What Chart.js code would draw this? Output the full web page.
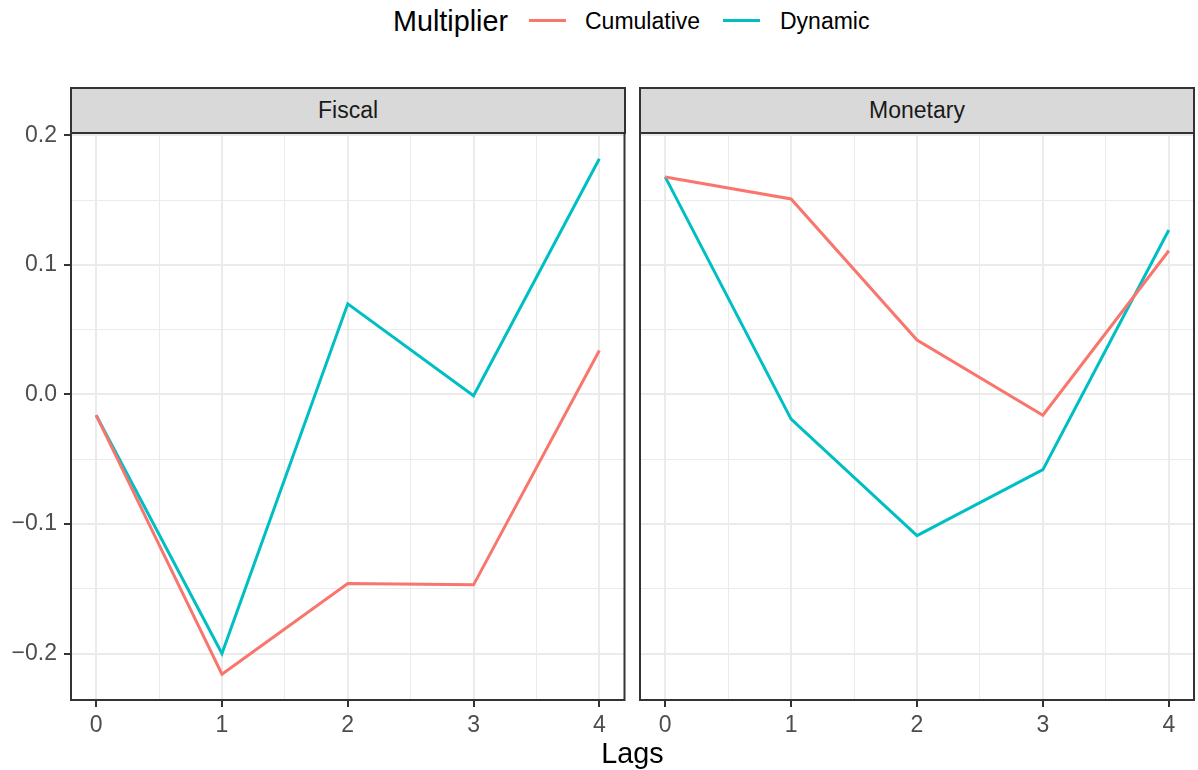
<!DOCTYPE html>
<html>
<head>
<meta charset="utf-8">
<script src="https://cdn.jsdelivr.net/npm/chart.js@4"></script>
<style>
  body { margin:0; width:1198px; height:770px; background:#fff; position:relative; overflow:hidden;
         font-family:"Liberation Sans", Arial, sans-serif; }
  .abs { position:absolute; white-space:nowrap; line-height:1; }
  .strip { position:absolute; box-sizing:border-box; border:2px solid #333; background:#D9D9D9;
           color:#1A1A1A; font-size:23px; display:flex; align-items:center; justify-content:center; }
  .key { position:absolute; height:3px; }
  canvas { position:absolute; }
</style>
</head>
<body>
  <!-- legend -->
  <div class="abs" style="left:393px;top:7px;font-size:28.75px;color:#000">Multiplier</div>
  <div class="key" style="left:529px;top:19px;width:37px;background:#F8766D"></div>
  <div class="abs" style="left:585px;top:10px;font-size:23px;color:#000">Cumulative</div>
  <div class="key" style="left:723px;top:19px;width:37px;background:#00BFC4"></div>
  <div class="abs" style="left:780px;top:10px;font-size:23px;color:#000">Dynamic</div>

  <!-- strips -->
  <div class="strip" style="left:70px;top:87px;width:556px;height:47px">Fiscal</div>
  <div class="strip" style="left:639px;top:87px;width:556px;height:47px">Monetary</div>

  <canvas id="fiscalChart" width="630" height="640" style="left:0;top:100px"></canvas>
  <canvas id="monetaryChart" width="568" height="640" style="left:630px;top:100px"></canvas>

  <div class="abs" style="left:0;width:1265px;text-align:center;top:739px;font-size:28.75px;color:#000">Lags</div>

<script>
// Dados
const lags = [0, 1, 2, 3, 4];
const fiscalCumulative   = [-0.016, -0.216, -0.146, -0.147, 0.034];
const fiscalDynamic      = [-0.016, -0.200, 0.070, -0.001, 0.182];
const monetaryCumulative = [0.168, 0.151, 0.042, -0.016, 0.111];
const monetaryDynamic    = [0.168, -0.019, -0.109, -0.058, 0.127];

const xTicks = [0, 1, 2, 3, 4];
const xMinor = [0.5, 1.5, 2.5, 3.5];
const yTicks = [-0.2, -0.1, 0.0, 0.1, 0.2];
const yMinor = [-0.15, -0.05, 0.05, 0.15];

const CUM = '#F8766D', DYN = '#00BFC4';

// faixa como no ggplot (expansão de 5%)
const allVals = [...fiscalCumulative, ...fiscalDynamic, ...monetaryCumulative, ...monetaryDynamic];
const yLo = Math.min(...allVals), yHi = Math.max(...allVals);
const yPad = (yHi - yLo) * 0.05;
const xPad = (Math.max(...lags) - Math.min(...lags)) * 0.05;

const isMajor = (v, list) => list.some(t => Math.abs(t - v) < 1e-9);
const fmtY = v => (v < -1e-9 ? '\u2212' : '') + Math.abs(v).toFixed(1);

const panelBorder = {
  id: 'panelBorder',
  afterDraw(chart) {
    const a = chart.chartArea, ctx = chart.ctx;
    ctx.save();
    ctx.strokeStyle = '#333333';
    ctx.lineWidth = 2;
    ctx.strokeRect(a.left, a.top, a.right - a.left, a.bottom - a.top);
    ctx.restore();
  }
};

function makePanel(id, cum, dyn, showY, padding) {
  const xy = arr => lags.map((l, i) => ({ x: l, y: arr[i] }));
  return new Chart(document.getElementById(id), {
    type: 'line',
    data: {
      datasets: [
        { label: 'Cumulative', data: xy(cum), borderColor: CUM, borderWidth: 3, pointRadius: 0, tension: 0 },
        { label: 'Dynamic', data: xy(dyn), borderColor: DYN, borderWidth: 3, pointRadius: 0, tension: 0 }
      ]
    },
    options: {
      responsive: false, animation: false,
      layout: { padding },
      plugins: { legend: { display: false }, tooltip: { enabled: false } },
      scales: {
        x: {
          type: 'linear', min: Math.min(...lags) - xPad, max: Math.max(...lags) + xPad,
          afterBuildTicks: s => { s.ticks = [...xTicks, ...xMinor].sort((a, b) => a - b).map(v => ({ value: v })); },
          afterFit: s => { s.height = 40; },
          border: { display: false },
          grid: {
            color: '#EBEBEB',
            lineWidth: c => isMajor(c.tick.value, xTicks) ? 2 : 1,
            tickColor: c => isMajor(c.tick.value, xTicks) ? '#333333' : 'rgba(0,0,0,0)',
            tickWidth: 2, tickLength: 7
          },
          ticks: {
            autoSkip: false, maxRotation: 0, padding: 5,
            color: '#4D4D4D', font: { family: 'Liberation Sans', size: 23 },
            callback: v => isMajor(v, xTicks) ? String(v) : ''
          }
        },
        y: {
          type: 'linear', min: yLo - yPad, max: yHi + yPad,
          afterBuildTicks: s => { s.ticks = [...yTicks, ...yMinor].sort((a, b) => a - b).map(v => ({ value: v })); },
          afterFit: s => { s.width = showY ? 71 : 0; },
          border: { display: false },
          grid: {
            color: '#EBEBEB',
            lineWidth: c => isMajor(c.tick.value, yTicks) ? 2 : 1,
            tickColor: c => (showY && isMajor(c.tick.value, yTicks)) ? '#333333' : 'rgba(0,0,0,0)',
            tickWidth: 2, tickLength: 7, drawTicks: showY
          },
          ticks: {
            display: showY, autoSkip: false, padding: 7,
            color: '#4D4D4D', font: { family: 'Liberation Sans', size: 23 },
            callback: v => isMajor(v, yTicks) ? fmtY(v) : ''
          }
        }
      }
    },
    plugins: [panelBorder]
  });
}

makePanel('fiscalChart', fiscalCumulative, fiscalDynamic, true, { left: 0, right: 5.5, top: 33, bottom: 0 });
makePanel('monetaryChart', monetaryCumulative, monetaryDynamic, false, { left: 10, right: 4, top: 33, bottom: 0 });
</script>
</body>
</html>
